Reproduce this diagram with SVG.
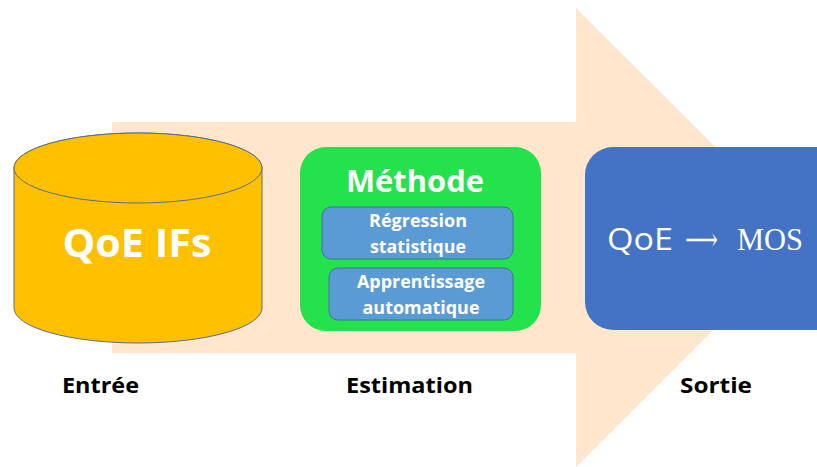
<svg xmlns="http://www.w3.org/2000/svg" width="817" height="467" viewBox="0 0 817 467">
<style>
.lbl{font-family:"Open Sans","Liberation Sans",sans-serif;font-weight:bold;fill:#000;font-size:22px}
.wt{font-family:"Open Sans","Liberation Sans",sans-serif;font-weight:bold;fill:#fff;text-anchor:middle}
.sub{fill:#5B9BD5;stroke:#41719C;stroke-width:1}
.st{font-size:17px}
</style>
<rect width="817" height="467" fill="#fff"/>
<g id="arrow">
<polygon points="112,122 576,122 576,8 806,237.5 576,467 576,353 112,353" fill="#FFE6CC"/>
</g>
<g id="connectors"></g>
<g id="entree">
<path d="M14,168 L14,308 A124,35 0 0 0 262,308 L262,168 A124,35 0 0 0 14,168 Z" fill="#FFC000" stroke="#5A6E8C" stroke-width="1"/>
<ellipse cx="138" cy="168" rx="124" ry="35" fill="#FFC000" stroke="#5A6E8C" stroke-width="1"/>
<text class="wt" x="137" y="257" font-size="39" textLength="149" lengthAdjust="spacingAndGlyphs">QoE IFs</text>
</g>
<g id="methode">
<rect x="300" y="147" width="241" height="184" rx="26" fill="#24E24B"/>
<text class="wt" x="415" y="192" font-size="30" textLength="138" lengthAdjust="spacingAndGlyphs">Méthode</text>
<g id="regression">
<rect class="sub" x="322" y="207" width="191" height="52" rx="9"/>
<text class="wt st" x="418" y="227" textLength="98" lengthAdjust="spacingAndGlyphs">Régression</text>
<text class="wt st" x="418" y="253" textLength="96" lengthAdjust="spacingAndGlyphs">statistique</text>
</g>
<g id="apprentissage">
<rect class="sub" x="329" y="268" width="184" height="52" rx="9"/>
<text class="wt st" x="421" y="288" textLength="128" lengthAdjust="spacingAndGlyphs">Apprentissage</text>
<text class="wt st" x="421" y="314" textLength="117" lengthAdjust="spacingAndGlyphs">automatique</text>
</g>
</g>
<g id="sortie">
<rect x="585" y="147" width="260" height="183" rx="28" fill="#4472C4"/>
<text y="250" font-size="31" fill="#fff"><tspan x="607" font-family="Open Sans,Liberation Sans,sans-serif" textLength="66" lengthAdjust="spacingAndGlyphs">QoE</tspan><tspan x="685" font-family="DejaVu Serif,Liberation Serif,serif" textLength="33" lengthAdjust="spacingAndGlyphs">⟶</tspan><tspan x="737" font-family="Liberation Serif,serif" textLength="66" lengthAdjust="spacingAndGlyphs">MOS</tspan></text>
</g>
<g id="labels">
<text class="lbl" x="62" y="393" textLength="77" lengthAdjust="spacingAndGlyphs">Entrée</text>
<text class="lbl" x="346" y="393" textLength="127" lengthAdjust="spacingAndGlyphs">Estimation</text>
<text class="lbl" x="680" y="393" textLength="72" lengthAdjust="spacingAndGlyphs">Sortie</text>
</g>
</svg>
